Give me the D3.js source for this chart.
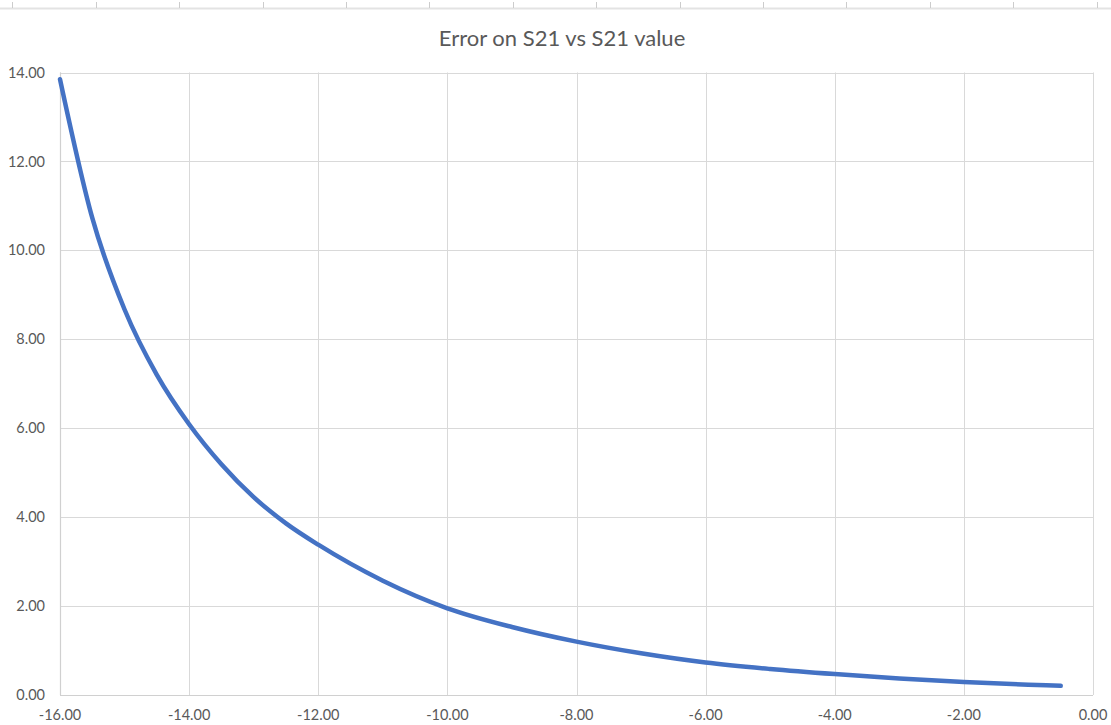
<!DOCTYPE html>
<html>
<head>
<meta charset="utf-8">
<script src="https://cdn.jsdelivr.net/npm/d3@7"></script>
<style>
  html, body { margin: 0; padding: 0; background: #fff; }
  svg { display: block; }
</style>
</head>
<body>
<svg id="chart" width="1111" height="725"></svg>
<script>
const title = "Error on S21 vs S21 value";
const xValues = [-16, -15.5, -15, -14.5, -14, -13.5, -13, -12.5, -12, -11, -10, -9, -8, -7, -6, -5, -4, -3, -2, -1, -0.5];
const yValues = [13.85, 10.73, 8.67, 7.20, 6.09, 5.19, 4.45, 3.86, 3.38, 2.57, 1.95, 1.53, 1.20, 0.937, 0.73, 0.585, 0.47, 0.372, 0.293, 0.232, 0.206];
const xTicks = [-16, -14, -12, -10, -8, -6, -4, -2, 0];
const yTicks = [0, 2, 4, 6, 8, 10, 12, 14];
const rulerTicks = d3.range(14);

const svg = d3.select("#chart");
const W = 1111, H = 725;
const m = { left: 60, right: 1093, top: 72.5, bottom: 695 };

const fmt = d3.formatLocale({ decimal: ".", thousands: ",", grouping: [3], currency: ["", ""], minus: "-" }).format(".2f");

// top ruler (cropped sheet header)
svg.append("rect").attr("x", 0).attr("y", 7.5).attr("width", W).attr("height", 2).attr("fill", "#e3e3e3");
const rulerScale = d3.scaleLinear().domain([0, 13]).range([12.3, 1096.5]);
svg.selectAll(".rt").data(rulerTicks).enter().append("line")
  .attr("x1", d => Math.round(rulerScale(d)) + 0.5).attr("x2", d => Math.round(rulerScale(d)) + 0.5)
  .attr("y1", 2).attr("y2", 8).attr("stroke", "#cccccc").attr("stroke-width", 1);

const x = d3.scaleLinear().domain([-16, 0]).range([m.left, m.right]);
const y = d3.scaleLinear().domain([0, 14]).range([m.bottom, m.top]);

const font = "Lato, Carlito, 'Liberation Sans', Arial, sans-serif";

// gridlines
svg.append("g").selectAll("line").data(yTicks).enter().append("line")
  .attr("x1", m.left).attr("x2", m.right)
  .attr("y1", d => Math.round(y(d)) + 0.5).attr("y2", d => Math.round(y(d)) + 0.5)
  .attr("stroke", "#d9d9d9").attr("stroke-width", 1);
svg.append("g").selectAll("line").data(xTicks).enter().append("line")
  .attr("y1", m.top).attr("y2", m.bottom)
  .attr("x1", d => Math.round(x(d)) + 0.5).attr("x2", d => Math.round(x(d)) + 0.5)
  .attr("stroke", "#d9d9d9").attr("stroke-width", 1);

// axis lines
svg.append("line").attr("x1", m.left).attr("x2", m.right)
  .attr("y1", Math.round(y(0)) + 0.5).attr("y2", Math.round(y(0)) + 0.5)
  .attr("stroke", "#d0d0d0").attr("stroke-width", 1.2);
svg.append("line").attr("y1", m.top).attr("y2", m.bottom)
  .attr("x1", Math.round(x(-16)) + 0.5).attr("x2", Math.round(x(-16)) + 0.5)
  .attr("stroke", "#d0d0d0").attr("stroke-width", 1.2);

// tick labels
svg.append("g").selectAll("text").data(yTicks).enter().append("text")
  .attr("x", 45).attr("y", d => y(d)).attr("dy", "0.35em")
  .attr("text-anchor", "end").attr("font-family", font).attr("font-size", 14.5)
  .attr("fill", "#595959").text(d => fmt(d));
svg.append("g").selectAll("text").data(xTicks).enter().append("text")
  .attr("x", d => x(d)).attr("y", 715).attr("dy", "0.35em")
  .attr("text-anchor", "middle").attr("font-family", font).attr("font-size", 14.5)
  .attr("fill", "#595959").text(d => fmt(d));

// title
svg.append("text").attr("x", 562).attr("y", 38).attr("dy", "0.35em")
  .attr("text-anchor", "middle").attr("font-family", font).attr("font-size", 22)
  .attr("fill", "#595959").text(title);

// series line
const pts = xValues.map((v, i) => [v, yValues[i]]);
const line = d3.line().x(d => x(d[0])).y(d => y(d[1])).curve(d3.curveMonotoneX);
svg.append("path").datum(pts).attr("d", line)
  .attr("fill", "none").attr("stroke", "#4472C4").attr("stroke-width", 4.5)
  .attr("stroke-linecap", "round").attr("stroke-linejoin", "round");
</script>
</body>
</html>
